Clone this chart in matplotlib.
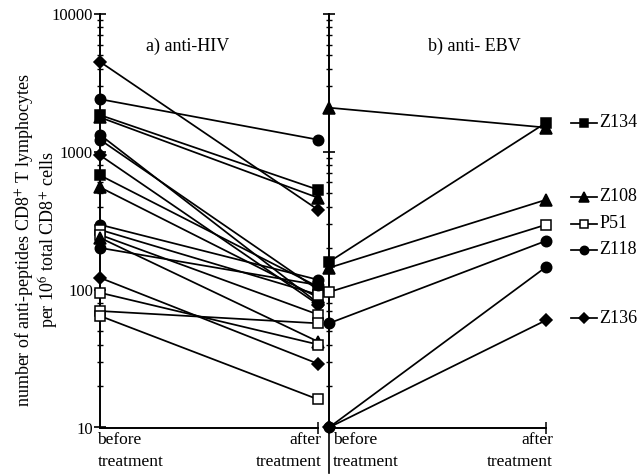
import matplotlib
matplotlib.use('Agg')
import matplotlib.pyplot as plt
from matplotlib.ticker import LogLocator, FixedLocator, FixedFormatter, NullFormatter

plt.rcParams['font.family'] = ['Liberation Serif', 'DejaVu Serif']
plt.rcParams['mathtext.fontset'] = 'stix'

# ---------------- data ----------------
# panel a) anti-HIV : before / after treatment
hiv_before = [4500, 2410, 1850, 1780, 1330, 1225, 945, 676, 553, 296, 272, 250, 238, 201, 122, 95, 70, 64.5]
hiv_after = [380, 1225, 531, 464, 80, 100, 78, 105, 88, 118, 92, 66, 42, 108, 29, 40, 57, 16]
hiv_symbol = ['diamond', 'circle', 'square', 'triangle', 'circle', 'circle', 'diamond', 'square',
              'triangle', 'circle', 'open_square', 'open_square', 'triangle', 'circle', 'diamond',
              'open_square', 'open_square', 'open_square']

# panel b) anti-EBV
ebv_before = [2090, 159, 144, 96, 57, 10, 10]
ebv_after = [1500, 1625, 449, 296, 226, 146, 60]
ebv_symbol = ['triangle', 'square', 'triangle', 'open_square', 'circle', 'circle', 'diamond']

legend_labels = ['Z134', 'Z108', 'P51', 'Z118', 'Z136']
legend_symbol = ['square', 'triangle', 'open_square', 'circle', 'diamond']
legend_level = [1626, 472, 300, 195, 62]

y_ticks = [10, 100, 1000, 10000]
y_ticklabels = ['10', '100', '1000', '10000']

# ---------------- styles ----------------
STY = {
    'diamond': dict(marker='D', mfc='k', ms=6.2),
    'circle': dict(marker='o', mfc='k', ms=7.5),
    'square': dict(marker='s', mfc='k', ms=6.8),
    'triangle': dict(marker='^', mfc='k', ms=8.5),
    'open_square': dict(marker='s', mfc='w', ms=6.5),
}
LW = 1.25

W, H = 640, 475
fig = plt.figure(figsize=(W / 100, H / 100), dpi=100)


def rect(x0, y0, x1, y1):
    return [x0 / W, 1 - y1 / H, (x1 - x0) / W, (y1 - y0) / H]


axa = fig.add_axes(rect(100, 14, 329, 427.5))
axb = fig.add_axes(rect(329, 14, 640, 427.5))
axa.set_xlim(0, 229 / 218)
axb.set_xlim(0, 311 / 217)

for ax in (axa, axb):
    ax.set_yscale('log')
    ax.set_ylim(10, 10000)
    ax.patch.set_visible(False)
    for s in ('top', 'right'):
        ax.spines[s].set_visible(False)
    ax.spines['left'].set_linewidth(1.4)
    ax.spines['bottom'].set_linewidth(1.4)
    ax.spines['bottom'].set_bounds(0, 1)
    ax.yaxis.set_major_locator(FixedLocator(y_ticks))
    ax.yaxis.set_minor_locator(LogLocator(base=10, subs=range(2, 10)))
    ax.yaxis.set_minor_formatter(NullFormatter())
    ax.tick_params(axis='y', which='major', direction='inout', length=8, width=1.2)
    ax.tick_params(axis='y', which='minor', direction='inout', length=4, width=1)
    ax.set_xticks([1])
    ax.set_xticklabels([''])
    ax.tick_params(axis='x', which='major', direction='inout', length=8, width=1.1)

axa.yaxis.set_major_formatter(FixedFormatter(y_ticklabels))
axa.tick_params(axis='y', labelsize=12, pad=1)
axb.yaxis.set_major_formatter(NullFormatter())


def draw(ax, b, a, sym):
    ax.plot([0, 1], [b, a], color='k', lw=LW, marker=STY[sym]['marker'],
            mfc=STY[sym]['mfc'], mec='k', mew=1.1, ms=STY[sym]['ms'],
            clip_on=False, zorder=3)


for b, a, s in zip(hiv_before, hiv_after, hiv_symbol):
    draw(axa, b, a, s)
for b, a, s in zip(ebv_before, ebv_after, ebv_symbol):
    draw(axb, b, a, s)

# legend (manual, to the right of panel b)
for lab, sym, lev in zip(legend_labels, legend_symbol, legend_level):
    axb.plot([1.115, 1.235], [lev, lev], color='k', lw=LW, clip_on=False)
    axb.plot([1.175], [lev], linestyle='none', marker=STY[sym]['marker'],
             mfc=STY[sym]['mfc'], mec='k', mew=1.1, ms=STY[sym]['ms'] * 0.8, clip_on=False)
    axb.text(1.245, lev, lab, fontsize=13, va='center', ha='left')

# x category labels
fs = 12.5
ta = axa.get_xaxis_transform()
tb = axb.get_xaxis_transform()
axa.text(-0.012, -0.012, 'before\ntreatment', transform=ta, ha='left', va='top',
         fontsize=fs, linespacing=1.45)
axa.text(1.015, -0.012, 'after\ntreatment', transform=ta, ha='right', va='top',
         fontsize=fs, linespacing=1.45, multialignment='right')
axb.text(0.018, -0.012, 'before\ntreatment', transform=tb, ha='left', va='top',
         fontsize=fs, linespacing=1.45)
axb.text(1.032, -0.012, 'after\ntreatment', transform=tb, ha='right', va='top',
         fontsize=fs, linespacing=1.45, multialignment='right')
axb.plot([0, 0], [0, -0.11], transform=axb.transAxes, color='k', lw=1.2, clip_on=False)

# panel titles
axa.text(0.40, 0.9226, 'a) anti-HIV', transform=ta, ha='center', va='center', fontsize=13)
axb.text(0.668, 0.9226, 'b) anti- EBV', transform=tb, ha='center', va='center', fontsize=13)

# y label
fig.text(37 / W, 1 - 240 / H,
         'number of anti-peptides CD8$^{+}$ T lymphocytes\nper 10$^{6}$ total CD8$^{+}$ cells',
         rotation=90, ha='center', va='center', multialignment='center',
         fontsize=13, linespacing=1.15)

fig.savefig('out.png', dpi=100)
